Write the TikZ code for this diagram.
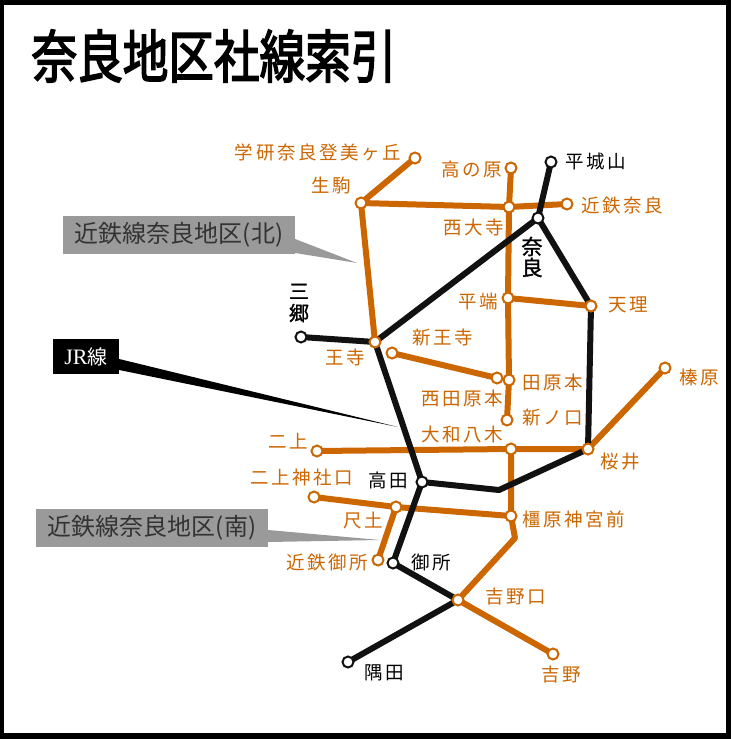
\documentclass[tikz,border=0pt]{standalone}
\usepackage{fontspec}
\usetikzlibrary{calc}
\newfontfamily\cjk{Noto Sans CJK JP}
\newfontfamily\cjksp{Noto Sans CJK JP}[LetterSpace=14]
\newfontfamily\cjkb{Noto Sans CJK JP}[FakeBold=3]
\newfontfamily\cjkmb{Noto Sans CJK JP}[FakeBold=1.5]
\newfontfamily\lserif{Liberation Serif}
\definecolor{kin}{HTML}{CC6600}
\definecolor{callgray}{HTML}{9A9A9A}
\definecolor{jrblack}{HTML}{111111}
\tikzset{
  stao/.style={circle, draw=kin, fill=white, line width=2pt, minimum size=11pt, inner sep=0pt},
  stak/.style={stao, draw=jrblack},
  lbl/.style={inner sep=0pt, font=\fontsize{18.5}{20}\cjksp},
  lo/.style={lbl, text=kin},
  lk/.style={lbl, text=black},
  kline/.style={draw=kin, line width=6pt, line join=round},
  jline/.style={draw=jrblack, line width=6pt, line join=round},
  callbox/.style={fill=callgray, minimum width=232pt, minimum height=38pt, inner sep=0pt, text=black!80, font=\fontsize{24}{26}\cjk},
}
\begin{document}
\begin{tikzpicture}[x=1pt, y=-1pt]
\useasboundingbox (0,0) rectangle (731,739);
% frame
\fill[black] (0,0) rectangle (731,739);
\fill[white] (4,5) rectangle (726,733);
% title
\node[inner sep=0pt] (title) at (214,56) {\scalebox{0.8}[1]{\fontsize{57}{60}\cjkb 奈良地区社線索引}};

% callouts
\node[callbox] (calln) at (179,235) {近鉄線奈良地区(北)};
\coordinate (tipn) at (357,263);
\fill[callgray] ($(calln.east)+(0,4)$) -- (tipn) -- ($(calln.east)+(0,18)$) -- cycle;

\node[fill=black, minimum width=66pt, minimum height=35pt, inner sep=0pt, text=white] (jrbox) at (86,356.5) {{\fontsize{22}{24}\lserif JR}{\fontsize{20}{22}\cjk 線}};
\coordinate (tipjr) at (398,427);
\fill[black] ($(jrbox.east)+(0,2.5)$) -- (tipjr) -- ($(jrbox.east)+(0,13.5)$) -- cycle;

\node[callbox] (calls) at (152,528) {近鉄線奈良地区(南)};
\coordinate (tips) at (380,540);
\fill[callgray] ($(calls.east)+(0,2)$) -- (tips) -- ($(calls.east)+(0,14)$) -- cycle;

% station positions
\coordinate (gakken) at (415,158);
\coordinate (ikoma) at (361,203);
\coordinate (takanohara) at (511,168);
\coordinate (saidaiji) at (509,207);
\coordinate (kintetsunara) at (567,204);
\coordinate (jrnara) at (538,218);
\coordinate (narayama) at (551,162);
\coordinate (hirahata) at (508,298);
\coordinate (tenri) at (591,306);
\coordinate (oji) at (375,342);
\coordinate (sango) at (301,337);
\coordinate (shinoji) at (392,353);
\coordinate (nishitawaramoto) at (497,378);
\coordinate (tawaramoto) at (509,380);
\coordinate (shinnokuchi) at (507,420);
\coordinate (yamatoyagi) at (511,449);
\coordinate (sakurai) at (588,449);
\coordinate (haibara) at (665,368);
\coordinate (nijo) at (317,451);
\coordinate (nijojinja) at (314,497);
\coordinate (shakudo) at (396,507);
\coordinate (kashihara) at (511,516);
\coordinate (takada) at (422,482);
\coordinate (kgose) at (378,560);
\coordinate (gose) at (393,563);
\coordinate (yoshinoguchi) at (458,600);
\coordinate (yoshino) at (553,654);
\coordinate (hayata) at (348,662);
\coordinate (bendj) at (499,490);
\coordinate (bendk) at (515,538);

% Kintetsu lines
\draw[kline] (gakken) -- (ikoma) -- (saidaiji) -- (kintetsunara);
\draw[kline] (ikoma) -- (oji);
\draw[kline] (takanohara) -- (saidaiji) -- (hirahata) -- (tawaramoto) -- (shinnokuchi);
\draw[kline] (hirahata) -- (tenri);
\draw[kline] (shinoji) -- (nishitawaramoto);
\draw[kline] (nijo) -- (yamatoyagi) -- (sakurai) -- (haibara);
\draw[kline] (yamatoyagi) -- (kashihara) -- (bendk) -- (yoshinoguchi) -- (yoshino);
\draw[kline] (nijojinja) -- (shakudo) -- (kashihara);
\draw[kline] (shakudo) -- (kgose);

% JR lines
\draw[jline] (narayama) -- (jrnara) -- (oji) -- (takada);
\draw[jline] (sango) -- (oji);
\draw[jline] (jrnara) -- (tenri) -- (sakurai) -- (bendj) -- (takada);
\draw[jline] (takada) -- (gose) -- (yoshinoguchi) -- (hayata);

% station circles
\foreach \s in {gakken,ikoma,takanohara,saidaiji,kintetsunara,hirahata,tenri,oji,shinoji,nishitawaramoto,tawaramoto,shinnokuchi,yamatoyagi,sakurai,haibara,nijo,nijojinja,shakudo,kashihara,kgose,yoshinoguchi,yoshino}
  \node[stao] (st-\s) at (\s) {};
\foreach \s in {jrnara,narayama,sango,takada,gose,hayata}
  \node[stak] (st-\s) at (\s) {};

% labels
\node[lo] (l-gakken) at (318,152) {学研奈良登美ヶ丘};
\node[lo] (l-ikoma) at (331,185) {生駒};
\node[lo] (l-takanohara) at (472,169) {高の原};
\node[lo] (l-saidaiji) at (474,227) {西大寺};
\node[lo] (l-kintetsunara) at (622,205) {近鉄奈良};
\node[lk] (l-narayama) at (596,161) {平城山};
\node[lo] (l-hirahata) at (478,301) {平端};
\node[lo] (l-tenri) at (628,305) {天理};
\node[lo] (l-shinoji) at (443,337) {新王寺};
\node[lo] (l-oji) at (345,357) {王寺};
\node[lo] (l-nishitawaramoto) at (462,398) {西田原本};
\node[lo] (l-tawaramoto) at (553,382) {田原本};
\node[lo] (l-shinnokuchi) at (553,418) {新ノ口};
\node[lo] (l-yamatoyagi) at (462,435) {大和八木};
\node[lo] (l-sakurai) at (620,462) {桜井};
\node[lo] (l-haibara) at (699,377) {榛原};
\node[lo] (l-nijo) at (288,441) {二上};
\node[lo] (l-nijojinja) at (302,477) {二上神社口};
\node[lk] (l-takada) at (388,480) {高田};
\node[lo] (l-shakudo) at (363,521) {尺土};
\node[lo] (l-kashihara) at (574,519) {橿原神宮前};
\node[lo] (l-kgose) at (327,562) {近鉄御所};
\node[lk] (l-gose) at (431,562) {御所};
\node[lo] (l-yoshinoguchi) at (516,597) {吉野口};
\node[lk] (l-hayata) at (384,673) {隅田};
\node[lo] (l-yoshino) at (561,675) {吉野};
\node[inner sep=0pt, align=center, font=\fontsize{21}{21}\cjkmb] (l-jrnara) at (532,257) {奈\\良};
\node[inner sep=0pt, align=center, font=\fontsize{20}{22}\cjkmb] (l-sango) at (299,303) {三\\郷};
\end{tikzpicture}
\end{document}
